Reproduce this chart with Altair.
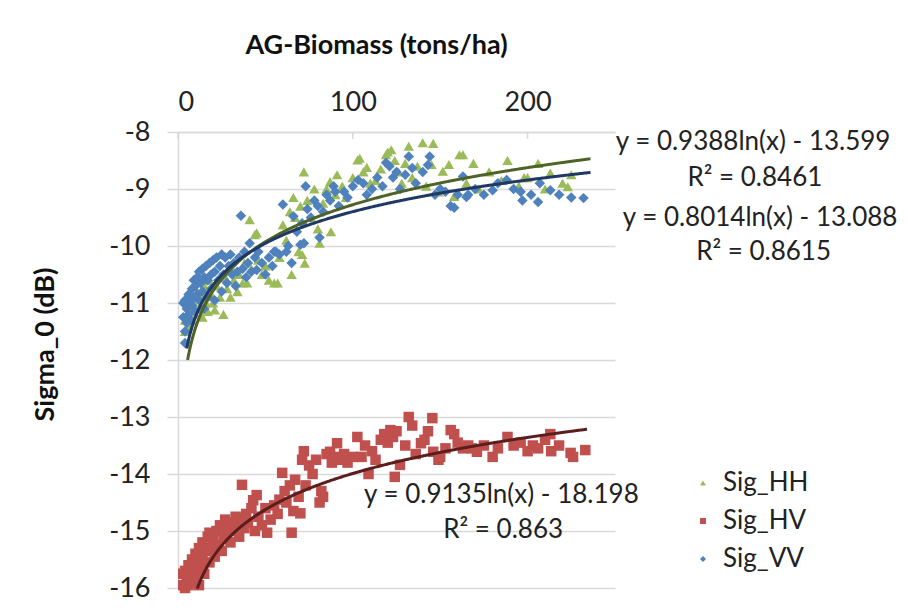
import altair as alt
import pandas as pd

# ---------------- data ----------------
SERIES = ["Sig_HH", "Sig_HV", "Sig_VV"]

HH_X = [4, 4, 5, 6, 7, 8, 9, 10, 11, 12, 13, 14, 15, 16, 17, 18, 19, 20, 21, 22,
        24, 26, 27, 28, 30, 31, 32, 34, 35, 37, 38, 39.5, 41, 42, 44, 45, 46, 48, 50, 52,
        55, 57, 58, 60, 62, 64, 65, 66, 67, 69, 70, 71, 72, 72.5, 74, 76, 78, 80, 81, 83,
        85, 87, 87.5, 90, 91, 94, 96, 100, 102.7, 104, 106, 108, 110, 113, 116, 119, 120, 122, 124, 126,
        128, 130, 132, 134, 137, 140, 142, 145, 146, 149, 151.5, 155, 158, 161, 163, 165, 169, 172, 178, 185,
        188.5, 195, 198, 200, 206, 210, 213, 220, 223, 225]
HH_Y = [-11.3, -11.5, -11.2, -11.4, -11.1, -11.3, -11.0, -11.2, -10.8, -11.1, -10.9, -11.25, -10.7, -11.0, -11.15, -10.6, -10.85, -11.0, -11.12, -10.7,
        -10.9, -11.2, -10.55, -10.75, -10.9, -10.4, -10.6, -10.8, -10.5, -10.65, -10.3, -10.65, -9.54, -10.4, -9.8, -9.77, -10.25, -10.5, -10.35, -10.6,
        -10.65, -10.65, -10.2, -9.63, -9.9, -9.4, -10.5, -9.15, -9.5, -10.1, -9.3, -10.15, -8.7, -10.3, -9.2, -9.5, -9.0, -9.7, -9.95, -9.25,
        -9.0, -8.87, -9.75, -9.1, -8.75, -8.95, -9.15, -8.8, -8.49, -8.46, -8.7, -8.62, -8.9, -8.85, -8.65, -8.4, -8.35, -8.31, -8.5, -8.7,
        -8.9, -8.55, -8.25, -8.8, -8.6, -8.19, -8.95, -8.57, -8.2, -9.05, -8.69, -8.57, -9.13, -8.4, -8.4, -8.9, -8.55, -9.0, -8.7, -8.85,
        -8.5, -8.95, -8.8, -8.8, -8.55, -9.0, -8.72, -8.9, -8.96, -8.75]

HV_X = [3, 3, 4, 4, 5, 6, 6, 7, 8, 8, 9, 10, 10, 11, 12, 12, 13, 14, 14, 15,
        16, 17, 18, 18, 19, 20, 21, 22, 23, 24, 25, 26, 27, 28, 29, 30, 31, 32, 33, 34,
        35, 36, 36.6, 38, 39, 40, 42, 43, 44, 45, 46, 48, 50, 51, 53, 55, 57, 58, 59.6, 61,
        62, 64, 65, 66, 67, 69, 70, 71, 72, 73, 75, 77, 79, 81, 82, 83, 85, 87, 88, 90,
        91, 93, 95, 97, 100, 102.6, 105, 107, 109, 111, 113, 116, 118, 120, 121.5, 123, 124, 125, 127, 130,
        132, 134, 136, 139, 141, 143, 145.5, 146, 149, 150, 153, 156, 158, 160, 163, 166, 168, 171, 175, 180,
        183, 188.5, 192, 196, 200, 203, 206, 210, 213, 213.5, 218, 224.6, 226, 233]
HV_Y = [-15.75, -15.95, -15.7, -16.0, -15.85, -15.6, -15.95, -15.75, -15.5, -15.9, -15.65, -15.4, -15.8, -15.55, -15.3, -15.95, -15.6, -15.2, -15.45, -15.75,
        -15.35, -15.1, -15.03, -15.55, -15.3, -15.15, -15.45, -15.0, -15.25, -14.9, -15.35, -15.1, -14.8, -15.05, -14.95, -15.2, -14.85, -15.0, -14.75, -14.9,
        -15.1, -14.8, -14.19, -14.95, -14.7, -14.85, -14.6, -14.46, -15.0, -14.37, -14.75, -14.9, -14.6, -15.03, -14.8, -14.55, -14.7, -14.45, -13.98, -14.3,
        -14.5, -14.2, -15.03, -14.65, -14.1, -14.4, -14.69, -13.75, -13.6, -14.2, -13.85, -14.0, -13.75, -14.5, -14.3, -14.4, -13.65, -13.61, -13.8, -13.7,
        -13.46, -13.75, -13.65, -13.8, -13.7, -13.35, -13.7, -13.5, -14.0, -13.6, -13.75, -13.4, -13.3, -13.45, -13.23, -13.35, -14.05, -13.25, -13.84, -13.5,
        -13.0, -13.15, -13.65, -13.46, -13.4, -13.25, -13.02, -13.61, -13.75, -13.7, -13.55, -13.23, -13.3, -13.45, -13.55, -13.5, -13.55, -13.61, -13.5, -13.7,
        -13.55, -13.35, -13.5, -13.45, -13.6, -13.5, -13.55, -13.4, -13.3, -13.6, -13.5, -13.63, -13.7, -13.58]

VV_X = [3, 3, 4, 4, 4, 5, 5, 6, 6, 7, 7, 8, 8, 9, 9, 10, 10, 11, 11, 12,
        12, 13, 14, 14, 15, 15, 16, 17, 17, 18, 19, 19, 20, 21, 21, 22, 23, 24, 25, 25,
        26, 27, 28, 29, 30, 31, 32, 33, 34, 35, 36, 37, 38, 39, 40, 41, 42, 44, 45, 46,
        48, 50, 52, 54, 55, 56, 58, 60, 62, 63, 65, 66, 68, 70, 71, 72, 73, 74, 76, 78,
        80, 81, 83, 85, 87, 89, 90, 92, 95, 97, 100, 103, 106, 108, 111, 114, 117, 119, 121, 123,
        125, 127, 130, 132, 134, 136, 140, 143, 144, 147, 150, 153, 156, 158, 160, 163, 165, 166, 170, 175,
        180, 183, 188, 192, 196, 197, 202, 206, 207, 213, 218, 225, 232]
VV_Y = [-11.0, -11.25, -10.95, -11.5, -11.7, -11.1, -11.35, -10.85, -11.2, -11.0, -11.3, -10.75, -11.05, -10.9, -10.6, -10.7, -11.15, -10.55, -10.85, -10.95,
        -10.45, -10.65, -10.4, -10.8, -10.55, -11.1, -10.35, -10.6, -10.9, -10.3, -10.5, -10.75, -10.25, -10.45, -10.95, -10.2, -10.6, -10.35, -10.15, -10.8,
        -10.5, -10.2, -10.65, -10.35, -10.15, -10.5, -10.3, -10.7, -10.45, -10.2, -9.47, -10.4, -10.1, -10.55, -10.3, -9.95, -10.45, -10.2, -10.42, -10.1,
        -10.3, -10.5, -10.2, -10.35, -10.1, -10.1, -10.15, -9.27, -10.1, -10.0, -10.3, -9.48, -9.75, -9.98, -9.6, -9.95, -8.95, -9.35, -9.5, -9.2,
        -9.3, -9.85, -9.4, -9.1, -9.2, -8.95, -9.05, -9.3, -9.05, -9.15, -8.95, -8.84, -8.9, -9.1, -9.0, -8.8, -8.95, -8.54, -8.6, -8.8,
        -8.7, -9.0, -8.75, -8.43, -8.63, -8.9, -8.7, -8.58, -8.43, -9.1, -9.0, -9.05, -9.3, -9.33, -9.1, -8.78, -9.14, -9.1, -9.0, -9.1,
        -9.02, -8.9, -8.84, -9.0, -9.05, -9.2, -9.1, -9.23, -8.9, -9.02, -9.1, -9.15, -9.16]

POINT_COLORS = ["#9BBB59", "#C0504D", "#4F81BD"]
POINT_SHAPES = ["triangle-up", "square", "diamond"]

# logarithmic trendlines printed on the chart
TREND_A = [0.9388, 0.9135, 0.8014]
TREND_B = [-13.599, -18.198, -13.088]
TREND_X0 = [5.5, 11, 5.0]
TREND_X1 = [236, 234, 236]
TREND_COLORS = ["#4F6228", "#5A1F1D", "#1F3864"]

EQ_LABELS = ["y = 0.9388ln(x) - 13.599", "R² = 0.8461",
             "y = 0.8014ln(x) - 13.088", "R² = 0.8615",
             "y = 0.9135ln(x) - 18.198", "R² = 0.863"]
EQ_X = [329, 330, 333, 335, 185, 186]
EQ_Y = [-8.17, -8.81, -9.5, -10.1, -14.37, -14.98]

X_TICKS = [0, 100, 200]
Y_TICKS = [-16, -15, -14, -13, -12, -11, -10, -9, -8]

FONT = "Lato"
GRID = "#D9D9D9"

# ---------------- tables ----------------
rows = []
for name, xs, ys in [("Sig_HH", HH_X, HH_Y), ("Sig_HV", HV_X, HV_Y), ("Sig_VV", VV_X, VV_Y)]:
    for xv, yv in zip(xs, ys):
        rows.append({"series": name, "biomass": xv, "sigma": yv})
points_df = pd.DataFrame(rows)
points_df["order"] = points_df["series"].map({s: i for i, s in enumerate(SERIES)})

eq_df = pd.DataFrame({"label": EQ_LABELS, "x": EQ_X, "y": EQ_Y})
tick_df = pd.DataFrame({"x": X_TICKS})

x_scale = alt.Scale(domain=[0, 250], nice=False, zero=False)
y_scale = alt.Scale(domain=[-16, -8], nice=False, zero=False)

x_axis = alt.Axis(orient="top", values=X_TICKS, grid=False, ticks=False,
                  domain=True, domainColor=GRID, domainWidth=1.5,
                  labelFont=FONT, labelFontSize=27, labelColor="#222222",
                  labelPadding=30, labelBaseline="middle",
                  title="AG-Biomass (tons/ha)", titleFont=FONT, titleFontSize=27,
                  titleFontWeight="bold", titleColor="#111111",
                  titleX=198, titleY=-87, titleAlign="center", titleBaseline="middle")
y_axis = alt.Axis(values=Y_TICKS, grid=True, gridColor=GRID, gridWidth=1.5,
                  ticks=True, tickSize=11, tickColor=GRID, tickWidth=1.5,
                  domain=True, domainColor=GRID, domainWidth=1.5,
                  labelFont=FONT, labelFontSize=27, labelColor="#222222",
                  labelPadding=17, labelExpr="'' + datum.value",
                  title="Sigma_0 (dB)", titleFont=FONT, titleFontSize=27,
                  titleFontWeight="bold", titleColor="#111111",
                  titleX=-133, titleY=212, titleAngle=270, titleAlign="center",
                  titleBaseline="middle")

points = alt.Chart(points_df).mark_point(filled=True, opacity=1, size=110).encode(
    x=alt.X("biomass:Q", scale=x_scale, axis=x_axis),
    y=alt.Y("sigma:Q", scale=y_scale, axis=y_axis),
    color=alt.Color("series:N", scale=alt.Scale(domain=SERIES, range=POINT_COLORS),
                    legend=alt.Legend(title=None, orient="none", legendX=512, legendY=338,
                                      labelFont=FONT, labelFontSize=26, labelColor="#222222",
                                      symbolSize=36, rowPadding=12, labelOffset=7)),
    shape=alt.Shape("series:N", scale=alt.Scale(domain=SERIES, range=POINT_SHAPES)),
    order=alt.Order("order:Q"),
)

layers = [points]
for a, b, x0, x1, col in zip(TREND_A, TREND_B, TREND_X0, TREND_X1, TREND_COLORS):
    line = (alt.Chart(alt.sequence(x0, x1 + 0.1, 0.5, as_="bx"))
            .transform_calculate(sy=f"{a} * log(datum.bx) + ({b})")
            .mark_line(color=col, strokeWidth=3)
            .encode(x=alt.X("bx:Q", scale=x_scale), y=alt.Y("sy:Q", scale=y_scale)))
    layers.append(line)

ticks = alt.Chart(tick_df).mark_rule(color=GRID, strokeWidth=1.5).encode(
    x=alt.X("x:Q", scale=x_scale), y=alt.value(0), y2=alt.value(7))
layers.append(ticks)

eq_text = alt.Chart(eq_df).mark_text(font=FONT, fontSize=26, color="#222222",
                                     align="center", baseline="middle").encode(
    x=alt.X("x:Q", scale=x_scale), y=alt.Y("y:Q", scale=y_scale), text="label:N")
layers.append(eq_text)

chart = alt.layer(*layers).properties(
    width=437, height=456,
    autosize=alt.AutoSizeParams(type="none"),
    padding={"left": 170, "top": 124, "right": 285, "bottom": 14},
    background="white",
).configure_view(stroke=None)

chart.save("out.html", embed_options={"renderer": "svg", "actions": False})
